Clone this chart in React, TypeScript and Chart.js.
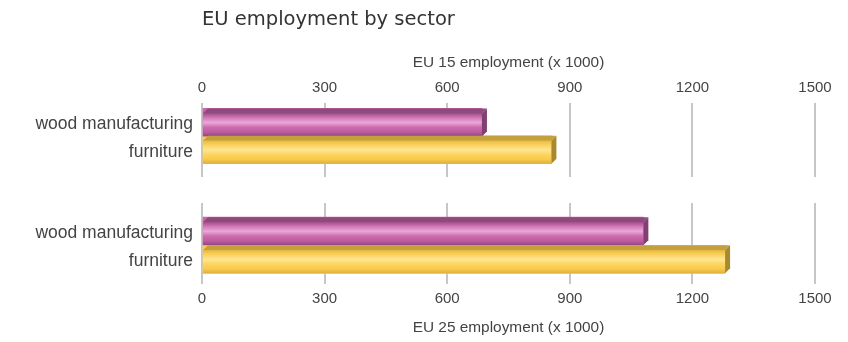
import React, { useEffect, useRef } from "react";
import { Chart, registerables } from "chart.js";

Chart.register(...registerables);

// ---- data ----
const sectors = ["wood manufacturing", "furniture"];
const eu15Employment = [685, 855];
const eu25Employment = [1080, 1280];
const xMin = 0;
const xMax = 1500;
const xStep = 300;
const chartTitle = "EU employment by sector";
const eu15AxisTitle = "EU 15 employment (x 1000)";
const eu25AxisTitle = "EU 25 employment (x 1000)";
const barColors = ["#c965ab", "#fbcc4f"];

// ---- styles ----
const palettes = [
  {
    top: "#8e497d",
    side: "#823f72",
    stops: ["#a24f8d", "#d57ab9", "#eaa8d8", "#cd6caf", "#bd5fa2", "#97447f"],
  },
  {
    top: "#c4a03d",
    side: "#a9892d",
    stops: ["#e8bb42", "#fcd35e", "#ffe597", "#fdd55e", "#f8ca4d", "#dfb03a"],
  },
];

const bar3d = {
  id: "bar3d",
  afterDatasetsDraw(chart: any) {
    const ctx = chart.ctx;
    const meta = chart.getDatasetMeta(0);
    meta.data.forEach((el: any, i: number) => {
      const { x, y, base, height } = el.getProps(["x", "y", "base", "height"], true);
      const d = 5;
      const top = y - height / 2;
      const bottom = y + height / 2;
      const p = palettes[i % palettes.length];
      ctx.save();
      const g = ctx.createLinearGradient(0, top + d, 0, bottom);
      const n = p.stops.length;
      p.stops.forEach((c: string, k: number) => g.addColorStop(k / (n - 1), c));
      ctx.fillStyle = g;
      ctx.fillRect(base, top + d, x - base, bottom - top - d);
      ctx.beginPath();
      ctx.moveTo(base, top + d);
      ctx.lineTo(base + d, top);
      ctx.lineTo(x + d, top);
      ctx.lineTo(x, top + d);
      ctx.closePath();
      ctx.fillStyle = p.top;
      ctx.fill();
      ctx.beginPath();
      ctx.moveTo(x, top + d);
      ctx.lineTo(x + d, top);
      ctx.lineTo(x + d, bottom - d);
      ctx.lineTo(x, bottom);
      ctx.closePath();
      ctx.fillStyle = p.side;
      ctx.fill();
      ctx.restore();
    });
  },
};

const textColor = "#444444";
const tickFont = { family: "Liberation Sans", size: 15 };
const catFont = { family: "Liberation Sans", size: 17.5 };
const axisTitleFont = { family: "Liberation Sans", size: 15.4 };

function makeConfig(
  values: number[],
  position: "top" | "bottom",
  axisTitle: string,
  yMin: number,
  yMax: number,
  withTitle: boolean,
  padding: any
): any {
  return {
    type: "bar",
    data: {
      datasets: [
        {
          data: sectors.map((_, i) => ({ x: values[i], y: i + 1 })),
          backgroundColor: barColors,
          borderWidth: 0,
          barThickness: 28,
        },
      ],
    },
    plugins: [bar3d],
    options: {
      indexAxis: "y",
      animation: false,
      responsive: true,
      maintainAspectRatio: false,
      layout: { padding },
      plugins: {
        legend: { display: false },
        tooltip: { enabled: false },
        title: {
          display: withTitle,
          text: chartTitle,
          align: "start",
          fullSize: false,
          color: "#333333",
          font: { family: "DejaVu Sans", size: 19.5, weight: "normal" },
          padding: { top: 8, bottom: 10 },
        },
      },
      scales: {
        x: {
          type: "linear",
          position,
          min: xMin,
          max: xMax,
          ticks: {
            stepSize: xStep,
            font: tickFont,
            color: textColor,
            padding: 6,
            callback: (v: number) => String(v),
          },
          grid: { color: "#c6c6c6", lineWidth: 2, drawTicks: false },
          border: { display: false },
          title: {
            display: true,
            text: axisTitle,
            font: axisTitleFont,
            color: textColor,
            padding: position === "top" ? { top: 12, bottom: 1 } : { top: 5, bottom: 5 },
          },
        },
        y: {
          type: "linear",
          reverse: true,
          offset: false,
          min: yMin,
          max: yMax,
          afterBuildTicks: (s: any) => {
            s.ticks = sectors.map((_, i) => ({ value: i + 1 }));
          },
          afterFit: (s: any) => {
            s.width = 202;
            s.paddingTop = 0;
            s.paddingBottom = 0;
          },
          ticks: {
            font: catFont,
            color: textColor,
            padding: 9,
            labelOffset: 2,
            callback: (v: number) => sectors[v - 1] ?? "",
          },
          grid: { display: false, drawTicks: false },
          border: { display: false },
        },
      },
    },
  };
}

function ChartBox({ config, style }: { config: any; style: React.CSSProperties }) {
  const ref = useRef<HTMLCanvasElement | null>(null);
  useEffect(() => {
    if (!ref.current) return;
    const chart = new Chart(ref.current, config);
    return () => chart.destroy();
  }, [config]);
  return (
    <div style={{ position: "absolute", ...style }}>
      <canvas ref={ref} />
    </div>
  );
}

const topConfig = makeConfig(eu15Employment, "top", eu15AxisTitle, 1 - 20 / 28, 3, true, {
  top: 0,
  right: 33,
  bottom: 13,
  left: 0,
});
const bottomConfig = makeConfig(eu25Employment, "bottom", eu25AxisTitle, 0, 2 + 24 / 28, false, {
  top: 13,
  right: 33,
  bottom: 0,
  left: 0,
});

export default function App() {
  return (
    <div style={{ position: "absolute", left: 0, top: 0, width: 848, height: 342, background: "#fff" }}>
      <ChartBox config={topConfig} style={{ left: 0, top: 0, width: 848, height: 190 }} />
      <ChartBox config={bottomConfig} style={{ left: 0, top: 190, width: 848, height: 152 }} />
    </div>
  );
}
